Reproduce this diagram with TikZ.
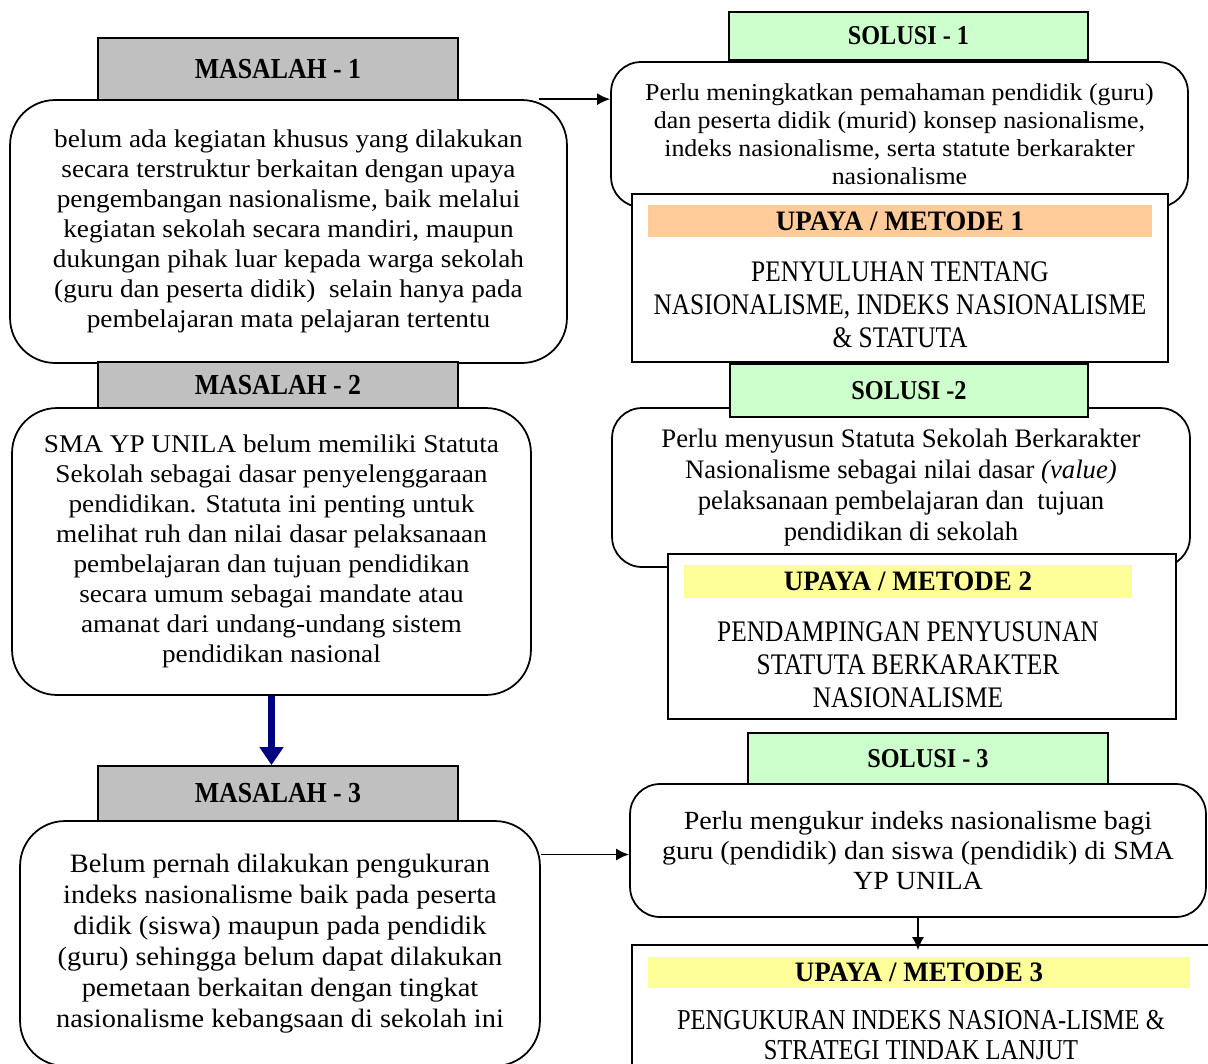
\documentclass[tikz,border=0pt]{standalone}
\usepackage{fontspec}
\setmainfont{Liberation Serif}[FakeStretch=1.07]
\newfontfamily\headfont{Liberation Serif}[FakeStretch=0.89]
\newfontfamily\bandfont{Liberation Serif}[FakeStretch=0.96]
\newfontfamily\capsfont{Liberation Serif}[FakeStretch=0.85]
\newfontfamily\timesfont{Liberation Serif}
\usepackage{tikz}
\usetikzlibrary{arrows.meta, positioning}

\definecolor{mgray}{RGB}{192,192,192}
\definecolor{sgreen}{RGB}{204,255,204}
\definecolor{uorange}{RGB}{255,204,153}
\definecolor{uyellow}{RGB}{255,255,153}
\definecolor{arrowblue}{RGB}{0,0,128}

\begin{document}
\begin{tikzpicture}[
    x=0.02cm, y=-0.02cm,
    head/.style={rectangle, draw, line width=1pt, inner sep=0pt, font=\headfont\fontsize{16.5}{19}\selectfont\bfseries},
    shead/.style={head, fill=sgreen, font=\headfont\fontsize{15.5}{19}\selectfont\bfseries},
    masalah/.style={rectangle, draw, fill=white, line width=1pt, rounded corners=0.9cm, align=center, inner sep=0pt, font=\fontsize{14.5}{17.1}\selectfont},
    solusi/.style={masalah, rounded corners=0.6cm},
    upaya/.style={rectangle, draw, fill=white, line width=1pt, inner sep=0pt},
    band/.style={rectangle, inner sep=0pt, font=\bandfont\fontsize{16}{19}\selectfont\bfseries},
    isi/.style={align=center, inner sep=0pt, font=\capsfont\fontsize{17}{18.8}\selectfont},
    panah/.style={line width=1pt, -{Latex[length=0.26cm, width=0.24cm]}}
]
    \useasboundingbox (0,0) rectangle (1208,1063);
    \clip (0,0) rectangle (1208,1063);

    % masalah
    \node[masalah, minimum width=11.14cm, minimum height=5.26cm] (m1) at (288.5,231.5)
        {belum ada kegiatan khusus yang dilakukan\\ secara terstruktur berkaitan dengan upaya\\ pengembangan nasionalisme, baik melalui\\ kegiatan sekolah secara mandiri, maupun\\ dukungan pihak luar kepada warga sekolah\\ (guru dan peserta didik)\ \ selain hanya pada\\ pembelajaran mata pelajaran tertentu};
    \node[head, fill=mgray, minimum width=7.2cm, minimum height=1.24cm] (m1h) at (278,69) {MASALAH - 1};

    \node[masalah, minimum width=10.38cm, minimum height=5.74cm] (m2) at (271.5,551.5)
        {SMA YP UNILA belum memiliki Statuta\\ Sekolah sebagai dasar penyelenggaraan\\ pendidikan. Statuta ini penting untuk\\ melihat ruh dan nilai dasar pelaksanaan\\ pembelajaran dan tujuan pendidikan\\ secara umum sebagai mandate atau\\ amanat dari undang-undang sistem\\ pendidikan nasional};
    \node[head, fill=mgray, minimum width=7.2cm, minimum height=0.92cm] (m2h) at (278,385) {MASALAH - 2};

    \node[masalah, minimum width=10.4cm, minimum height=4.9cm, font=\fontsize{15.1}{17.6}\selectfont] (m3) at (280,943.5)
        {Belum pernah dilakukan pengukuran\\ indeks nasionalisme baik pada peserta\\ didik (siswa) maupun pada pendidik\\ (guru) sehingga belum dapat dilakukan\\ pemetaan berkaitan dengan tingkat\\ nasionalisme kebangsaan di sekolah ini};
    \node[head, fill=mgray, minimum width=7.2cm, minimum height=1.1cm] (m3h) at (278,793.5) {MASALAH - 3};

    % solusi 1
    \node[solusi, minimum width=11.54cm, minimum height=2.9cm, font=\fontsize{13.8}{15.9}\selectfont] (s1) at (899.5,134.5)
        {Perlu meningkatkan pemahaman pendidik (guru)\\ dan peserta didik (murid) konsep nasionalisme,\\ indeks nasionalisme, serta statute berkarakter\\ nasionalisme};
    \node[shead, minimum width=7.18cm, minimum height=0.96cm] (s1h) at (908.5,36) {SOLUSI - 1};
    \node[upaya, minimum width=10.72cm, minimum height=3.36cm] (u1) at (900,278) {};
    \node[band, fill=uorange, minimum width=10.08cm, minimum height=0.64cm] (u1t) at (900,221) {UPAYA / METODE 1};
    \node[isi] (u1i) at (900,304.5) {PENYULUHAN TENTANG\\ NASIONALISME, INDEKS NASIONALISME\\ \& STATUTA};

    % solusi 2
    \node[solusi, minimum width=11.56cm, minimum height=3.18cm, font=\timesfont\fontsize{15.2}{17.6}\selectfont] (s2) at (901,487.5)
        {Perlu menyusun Statuta Sekolah Berkarakter\\ Nasionalisme sebagai nilai dasar {\itshape (value)}\\ pelaksanaan pembelajaran dan\ \ tujuan\\ pendidikan di sekolah};
    \node[shead, minimum width=7.16cm, minimum height=1.06cm] (s2h) at (909,390.5) {SOLUSI -2};
    \node[upaya, minimum width=10.16cm, minimum height=3.3cm] (u2) at (922,636.5) {};
    \node[band, fill=uyellow, minimum width=8.96cm, minimum height=0.66cm] (u2t) at (908,581.5) {UPAYA / METODE 2};
    \node[isi] (u2i) at (908,664.5) {PENDAMPINGAN PENYUSUNAN\\ STATUTA BERKARAKTER\\ NASIONALISME};

    % solusi 3
    \node[solusi, minimum width=11.52cm, minimum height=2.66cm, font=\fontsize{14.9}{17.1}\selectfont] (s3) at (918,850.5)
        {Perlu mengukur indeks nasionalisme bagi\\ guru (pendidik) dan siswa (pendidik) di SMA\\ YP UNILA};
    \node[shead, minimum width=7.2cm, minimum height=1.02cm] (s3h) at (928,758.5) {SOLUSI - 3};
    \node[upaya, minimum width=11.66cm, minimum height=3.3cm] (u3) at (923.5,1027.5) {};
    \node[band, fill=uyellow, minimum width=10.84cm, minimum height=0.62cm] (u3t) at (919,972.5) {UPAYA / METODE 3};
    \node[isi, font=\capsfont\fontsize{16.4}{17.4}\selectfont] (u3i) at (921,1035) {PENGUKURAN INDEKS NASIONA-LISME \&\\ STRATEGI TINDAK LANJUT};

    % panah
    \draw[panah] ([xshift=-0.58cm]m1.north east) -- (m1.north east -| s1.west);
    \draw[panah] ([yshift=-0.08cm]s3.west -| m3.east) -- ([yshift=-0.08cm]s3.west);
    \draw[panah] (s3.south) -- ([yshift=-0.12cm]s3.south |- u3.north);
    \draw[line width=4.5pt, arrowblue, -{Triangle[length=0.36cm, width=0.46cm]}] (m2.south) -- (m2.south |- m3h.north);
\end{tikzpicture}
\end{document}
